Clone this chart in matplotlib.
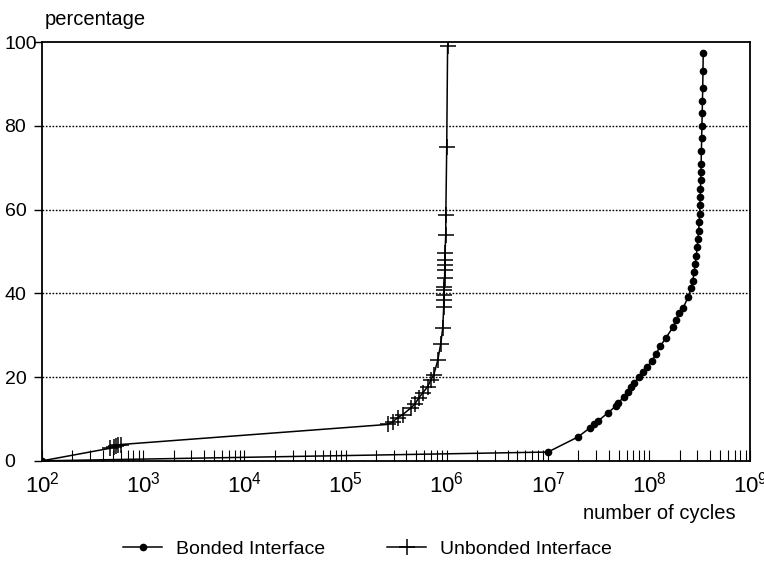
import matplotlib
matplotlib.use('Agg')
import matplotlib.pyplot as plt
from matplotlib.ticker import LogLocator, FixedLocator, NullFormatter

plt.rcParams['font.family'] = ['Liberation Sans', 'DejaVu Sans']
plt.rcParams['mathtext.fontset'] = 'custom'
plt.rcParams['mathtext.rm'] = 'Liberation Sans'
plt.rcParams['mathtext.it'] = 'Liberation Sans'

# Bonded interface: cycles vs percentage
bonded_n = [1e2, 1e7, 1.98e7, 2.61e7, 2.85e7, 3.13e7, 3.93e7, 4.71e7, 4.93e7,
            5.65e7, 6.19e7, 6.63e7, 7.10e7, 7.96e7, 8.73e7, 9.56e7, 1.07e8,
            1.17e8, 1.29e8, 1.47e8, 1.73e8, 1.85e8, 1.98e8, 2.17e8, 2.43e8,
            2.61e8, 2.70e8, 2.79e8, 2.86e8, 2.93e8, 2.99e8, 3.04e8, 3.09e8,
            3.13e8, 3.16e8, 3.18e8, 3.20e8, 3.22e8, 3.24e8, 3.26e8, 3.27e8,
            3.29e8, 3.31e8, 3.33e8, 3.35e8, 3.37e8, 3.39e8, 3.41e8, 3.43e8]
bonded_pct = [0, 2.1, 5.7, 7.9, 8.8, 9.5, 11.5, 13.1, 13.8,
              15.3, 16.5, 17.7, 18.6, 20.0, 21.2, 22.4, 23.9,
              25.5, 27.4, 29.4, 32.0, 33.7, 35.3, 36.5, 39.1,
              41.3, 43.0, 45.0, 47.0, 49.0, 51.0, 53.0, 55.0,
              57.0, 59.0, 61.0, 63.0, 65.0, 67.0, 69.0, 71.0,
              74.0, 77.0, 80.0, 83.0, 86.0, 89.0, 93.0, 97.4]

# Unbonded interface
unbonded_n = [1e2, 4.7e2, 5.1e2, 5.4e2, 5.7e2, 6.0e2, 2.61e5, 2.92e5, 3.27e5,
              3.66e5, 4.40e5, 4.82e5, 5.28e5, 5.78e5, 6.48e5, 6.95e5, 7.44e5,
              8.15e5, 8.73e5, 9.13e5, 9.34e5, 9.34e5, 9.40e5, 9.45e5, 9.50e5,
              9.53e5, 9.56e5, 9.58e5, 9.60e5, 9.62e5, 9.78e5, 9.80e5, 1.0e6,
              1.02e6]
unbonded_pct = [0, 3.0, 3.3, 3.6, 3.8, 3.9, 8.7, 9.3, 10.3,
                11.0, 12.6, 13.5, 15.0, 16.2, 17.7, 19.3, 20.5,
                24.0, 28.0, 31.7, 36.8, 38.4, 39.6, 40.8, 41.5,
                43.7, 45.6, 46.8, 48.0, 49.6, 54.0, 58.7, 75.0,
                99.0]

fig = plt.figure(figsize=(7.64, 5.62), dpi=100)
ax = fig.add_axes([0.055, 0.18, 0.927, 0.745])

ax.plot(bonded_n, bonded_pct, color='black', lw=1.1, marker='o', ms=4.5,
        label='Bonded Interface')
ax.plot(unbonded_n, unbonded_pct, color='black', lw=1.1, marker='+', ms=11,
        mew=1.1, label='Unbonded Interface')
# vertical part of the unbonded curve runs on to the top of the frame
ax.plot([unbonded_n[-1], unbonded_n[-1]], [unbonded_pct[-1], 100], color='black', lw=1.1)

ax.set_xscale('log')
ax.set_xlim(1e2, 1e9)
ax.set_ylim(0, 100)
ax.xaxis.set_major_locator(FixedLocator([1e2, 1e3, 1e4, 1e5, 1e6, 1e7, 1e8, 1e9]))
ax.set_xticklabels(['$10^{%d}$' % e for e in range(2, 10)], fontsize=16)
ax.xaxis.set_minor_locator(LogLocator(base=10, subs=range(2, 10), numticks=20))
ax.xaxis.set_minor_formatter(NullFormatter())
ax.tick_params(axis='x', which='minor', direction='in', length=8, width=0.8)
ax.tick_params(axis='x', which='major', direction='in', length=8, width=0.8, pad=8)
ax.set_yticks([0, 20, 40, 60, 80, 100])
ax.tick_params(axis='y', direction='out', length=6, width=1.0, labelsize=14, pad=21)
for lab in ax.get_yticklabels():
    lab.set_horizontalalignment('left')

for y in [20, 40, 60, 80]:
    ax.axhline(y, color='black', lw=1.0, ls=(0, (1.2, 1.2)))

for s in ax.spines.values():
    s.set_linewidth(1.3)

fig.text(0.059, 0.966, 'percentage', fontsize=14.5, ha='left', va='center')
fig.text(0.963, 0.087, 'number of cycles', fontsize=14.5, ha='right', va='center')

fig.legend(loc='center', bbox_to_anchor=(0.481, 0.023), ncol=2, frameon=False,
           fontsize=14, handlelength=2.0, columnspacing=3.2, handletextpad=0.7)

fig.savefig('out.png', dpi=100)
